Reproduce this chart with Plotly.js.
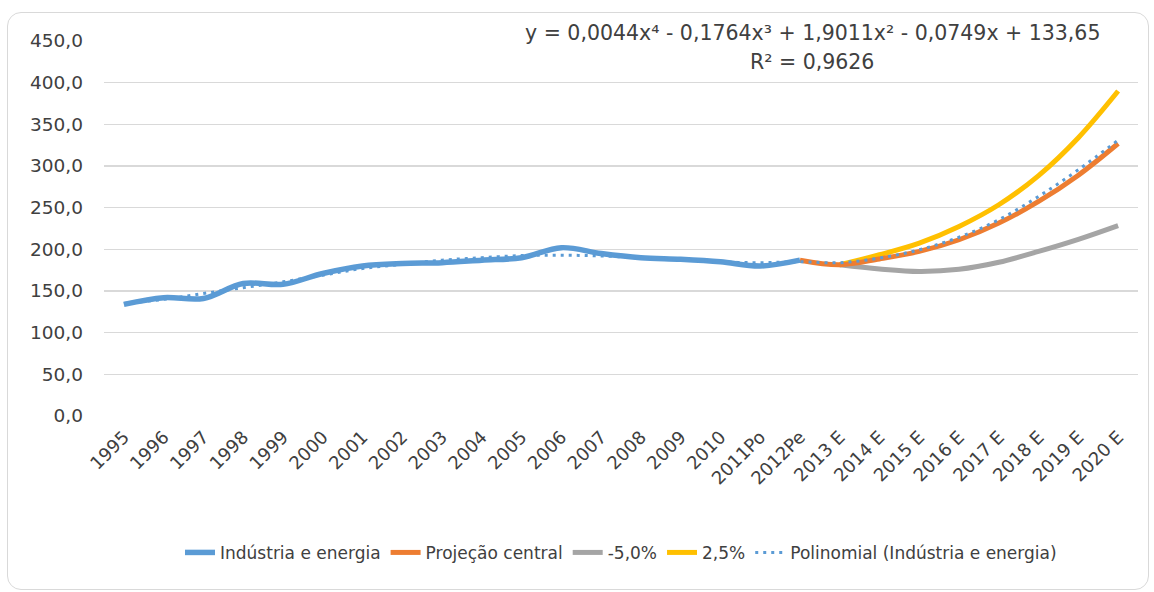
<!DOCTYPE html>
<html><head><meta charset="utf-8">
<script src="https://cdn.plot.ly/plotly-3.0.1.min.js"></script>
<style>
html,body{margin:0;padding:0;background:#fff;}
#chart{width:1154px;height:592px;}
#frame{position:absolute;left:7px;top:12px;width:1140px;height:576px;border:1.5px solid #d9d9d9;border-radius:14px;pointer-events:none;}
</style></head>
<body>
<div id="chart"></div>
<div id="frame"></div>
<script>
const categories = ["1995","1996","1997","1998","1999","2000","2001","2002","2003","2004","2005","2006","2007","2008","2009","2010","2011Po","2012Pe","2013 E","2014 E","2015 E","2016 E","2017 E","2018 E","2019 E","2020 E"];
const industria = [134,142,141,159,158,171,180,183,184,187,190,202,195,190,188,185,180,187,null,null,null,null,null,null,null,null];
const projecaoCentral = [null,null,null,null,null,null,null,null,null,null,null,null,null,null,null,null,null,187,181.5,188.5,197.5,211.5,231.5,257.5,289,327];
const menos5 = [null,null,null,null,null,null,null,null,null,null,null,null,null,null,null,null,null,null,181.5,176.5,173.5,176,184.5,197.5,212,228.5];
const mais25 = [null,null,null,null,null,null,null,null,null,null,null,null,null,null,null,null,null,null,181.5,193.5,207.5,227.5,253.5,288.5,334,390];
const polinomial = [135,140,147,154,161,169,177,182,187,190,192.5,193,192,190,188,185,184,185,184,189.5,199.5,214.5,235.5,263.5,295.5,331];
const seriesNames = ["Indústria e energia","Projeção central","-5,0%","2,5%","Polinomial (Indústria e energia)"];
const equationText = "y = 0,0044x⁴ - 0,1764x³ + 1,9011x² - 0,0749x + 133,65";
const r2Text = "R² = 0,9626";

const FONT = "DejaVu Sans, sans-serif";
const TXT = "#404040";
function line(y, name, color, width, dash){
  return {x: categories, y: y, name: name, type: "scatter", mode: "lines",
    line: {color: color, width: width, shape: "spline", smoothing: 1, dash: dash || "solid"},
    connectgaps: false, hoverinfo: "skip"};
}
const traces = [
  line(menos5, seriesNames[2], "#A5A5A5", 5),
  line(mais25, seriesNames[3], "#FFC000", 5),
  line(projecaoCentral, seriesNames[1], "#ED7D31", 5),
  line(industria, seriesNames[0], "#5B9BD5", 5.5),
  line(polinomial, seriesNames[4], "#5B9BD5", 3, "3px,5px")
];
traces[0].legendrank = 3; traces[1].legendrank = 4; traces[2].legendrank = 2; traces[3].legendrank = 1; traces[4].legendrank = 5;

const layout = {
  width: 1154, height: 592,
  margin: {l: 104, r: 16, t: 41, b: 176},
  paper_bgcolor: "rgba(0,0,0,0)", plot_bgcolor: "#fff",
  font: {family: FONT, color: TXT, size: 17},
  separators: ", ",
  showlegend: true,
  legend: {orientation: "h", x: 0.5, xanchor: "center", y: -0.365, yanchor: "middle",
    font: {size: 17, color: TXT, family: FONT}, traceorder: "normal", itemwidth: 30},
  xaxis: {type: "category", range: [-0.5, 25.5], showgrid: false, zeroline: false,
    showline: false, ticks: "", tickangle: -45, ticklabelstandoff: 6,
    tickfont: {size: 18, color: TXT}, fixedrange: true},
  yaxis: {range: [0, 450], dtick: 50, tick0: 0, tickformat: ".1f", showgrid: true,
    gridcolor: "#d9d9d9", gridwidth: 1.5, zeroline: false, showline: false, ticks: "",
    ticklabelstandoff: 20, tickfont: {size: 18.5, color: TXT}, fixedrange: true},
  annotations: [
    {text: equationText, xref: "paper", yref: "paper", x: 0.685, y: 1.021, showarrow: false,
      xanchor: "center", yanchor: "middle", font: {size: 20.5, color: TXT, family: FONT}},
    {text: r2Text, xref: "paper", yref: "paper", x: 0.685, y: 0.944, showarrow: false,
      xanchor: "center", yanchor: "middle", font: {size: 20.5, color: TXT, family: FONT}}
  ]
};
Plotly.newPlot("chart", traces, layout, {staticPlot: true, displayModeBar: false});
</script>
</body></html>
